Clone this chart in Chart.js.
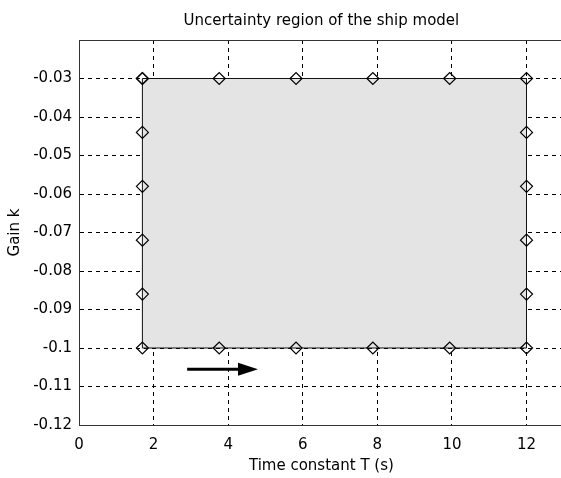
<!DOCTYPE html>
<html><head><meta charset="utf-8">
<script src="https://cdn.jsdelivr.net/npm/chart.js@4/dist/chart.umd.min.js"></script>
<style>html,body{margin:0;padding:0;overflow:hidden;background:#fff;width:561px;height:478px}#wrap{width:561px;height:478px;overflow:hidden;position:relative}#c{position:absolute;left:0;top:0}</style>
</head><body><div id="wrap"><canvas id="c" width="571" height="478"></canvas></div>
<script>
const titleText = 'Uncertainty region of the ship model';
const xTitle = 'Time constant T (s)';
const yTitle = 'Gain k';
const xTicks = [0, 2, 4, 6, 8, 10, 12];
const xTickLabels = ['0', '2', '4', '6', '8', '10', '12'];
const yTicks = [-0.03, -0.04, -0.05, -0.06, -0.07, -0.08, -0.09, -0.1, -0.11, -0.12];
const yTickLabels = ['-0.03', '-0.04', '-0.05', '-0.06', '-0.07', '-0.08', '-0.09', '-0.1', '-0.11', '-0.12'];
const T_min = 1.7, T_max = 12;
const k_min = -0.1, k_max = -0.03;
const edgeT = [1.7, 3.76, 5.82, 7.88, 9.94, 12];
const edgeK = [-0.03, -0.044, -0.058, -0.072, -0.086, -0.1];
const arrowT = [2.9, 4.8];
const arrowK = [-0.1055, -0.1055];

const FONT = 'DejaVu Sans';

// boundary polygon: top (left->right), right (top->bottom), bottom (right->left), left (bottom->top)
const boundary = [];
edgeT.forEach(t => boundary.push({x: t, y: k_max}));
edgeK.slice(1).forEach(k => boundary.push({x: T_max, y: k}));
edgeT.slice().reverse().slice(1).forEach(t => boundary.push({x: t, y: k_min}));
edgeK.slice().reverse().slice(1).forEach(k => boundary.push({x: T_min, y: k}));

const boxPlugin = {
  id: 'box',
  afterDatasetsDraw(chart) {
    const {ctx, chartArea: a} = chart;
    ctx.save();
    ctx.strokeStyle = '#333';
    ctx.lineWidth = 1;
    ctx.beginPath();
    ctx.moveTo(a.left, Math.round(a.top) + 0.5);
    ctx.lineTo(a.right, Math.round(a.top) + 0.5);
    ctx.moveTo(Math.round(a.right) - 0.5, a.top);
    ctx.lineTo(Math.round(a.right) - 0.5, a.bottom);
    ctx.stroke();
    ctx.restore();
  }
};

const arrowPlugin = {
  id: 'arrowHead',
  afterDatasetsDraw(chart) {
    const {ctx, scales: {x, y}} = chart;
    const x1 = x.getPixelForValue(arrowT[1]);
    const py = y.getPixelForValue(arrowK[1]);
    const len = 20, half = 6.5;
    ctx.save();
    ctx.fillStyle = '#000';
    ctx.beginPath();
    ctx.moveTo(x1, py);
    ctx.lineTo(x1 - len, py - half);
    ctx.lineTo(x1 - len, py + half);
    ctx.closePath();
    ctx.fill();
    ctx.restore();
  }
};

new Chart(document.getElementById('c'), {
  type: 'scatter',
  data: {
    datasets: [
      {
        data: [{x: T_min, y: k_max}, {x: T_max, y: k_max}],
        showLine: true, fill: '+1', backgroundColor: '#e4e4e4',
        borderWidth: 0, pointRadius: 0, order: 3
      },
      {
        data: [{x: T_min, y: k_min}, {x: T_max, y: k_min}],
        showLine: true, fill: false, borderWidth: 0, pointRadius: 0, order: 4
      },
      {
        data: boundary,
        showLine: true, fill: false, borderColor: '#111', borderWidth: 1,
        pointStyle: 'rectRot', pointRadius: 6, pointBorderColor: '#000',
        pointBackgroundColor: 'rgba(0,0,0,0)', pointBorderWidth: 1.2, order: 1
      },
      {
        data: [{x: arrowT[0], y: arrowK[0]}, {x: arrowT[1] - 0.3, y: arrowK[1]}],
        showLine: true, fill: false, borderColor: '#000', borderWidth: 3,
        pointRadius: 0, order: 0
      }
    ]
  },
  options: {
    responsive: false,
    animation: false,
    events: [],
    layout: {padding: {left: 0, right: 2, top: 0, bottom: 0}},
    plugins: {
      legend: {display: false},
      tooltip: {enabled: false},
      title: {
        display: true, text: titleText, fullSize: false,
        color: '#000', font: {family: FONT, size: 15, weight: 'normal'},
        padding: {top: 12, bottom: 10}
      }
    },
    scales: {
      x: {
        type: 'linear', min: 0, max: 13,
        afterBuildTicks: s => { s.ticks = xTicks.map(v => ({value: v})); },
        afterFit: s => { s.height = 53; },
        ticks: {
          includeBounds: false, autoSkip: false, maxRotation: 0, padding: 11,
          color: '#000', font: {family: FONT, size: 15},
          callback: (v, i) => xTickLabels[i]
        },
        grid: {color: '#000', lineWidth: 1, drawTicks: false},
        border: {display: true, color: '#333', width: 1, dash: [4, 4]},
        title: {
          display: true, text: xTitle, color: '#000',
          font: {family: FONT, size: 15}, padding: {top: 0, bottom: 3}
        }
      },
      y: {
        type: 'linear', min: -0.12, max: -0.02,
        afterBuildTicks: s => { s.ticks = yTicks.map(v => ({value: v})); },
        afterFit: s => { s.width = 79; },
        ticks: {
          autoSkip: false, padding: 7,
          color: '#000', font: {family: FONT, size: 15},
          callback: (v, i) => yTickLabels[i]
        },
        grid: {color: '#000', lineWidth: 1, drawTicks: false},
        border: {display: true, color: '#333', width: 1, dash: [4, 4]},
        title: {
          display: true, text: yTitle, color: '#000',
          font: {family: FONT, size: 15}, padding: {top: 6, bottom: 4}
        }
      }
    }
  },
  plugins: [boxPlugin, arrowPlugin]
});
</script>
</body></html>
